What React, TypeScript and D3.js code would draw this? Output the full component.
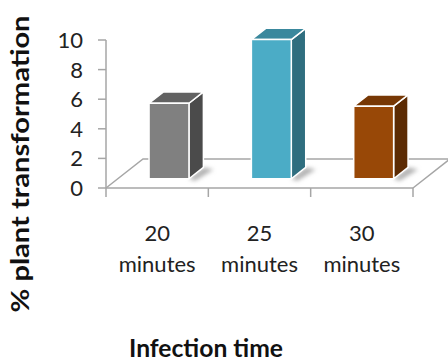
import React from "react";
import * as d3 from "d3";

const categories = ["20 minutes", "25 minutes", "30 minutes"];
const values = [5.1, 9.4, 4.9];
const yTicks = [0, 2, 4, 6, 8, 10];
const frontColors = ["#808080", "#4bacc6", "#984807"];
const topColors = ["#626262", "#3a889d", "#773805"];
const sideColors = ["#4b4b4b", "#2f6e7f", "#5c2b03"];

const W = 448, H = 361;
const x0 = 106, x1 = 413, yBase = 188;
const depth = [37, -29];
const f0 = 0.32, f1 = 0.71;
const font = "Lato, 'Open Sans', sans-serif";

export default function App() {
  const y = d3.scaleLinear().domain([0, 10]).range([yBase, 40]);
  const x = d3.scaleBand<string>().domain(categories).range([x0, x1]).paddingInner(0.61).paddingOuter(0.305);
  const bw = x.bandwidth();
  const step = x.step();
  const boundaries = d3.range(categories.length + 1).map(i => x0 + i * step);
  const line = d3.line();
  const dx0 = depth[0] * f0, dy0 = depth[1] * f0;
  const dx1 = depth[0] * f1, dy1 = depth[1] * f1;

  return (
    <svg width={W} height={H} style={{ position: "absolute", left: 0, top: 0, background: "#fff" }}>
      <defs>
        <filter id="blur" x="-50%" y="-50%" width="200%" height="200%">
          <feGaussianBlur stdDeviation="2" />
        </filter>
      </defs>
      {/* floor */}
      <g stroke="#a6a6a6" strokeWidth={1.5} fill="none">
        <path d={line([[x0, yBase], [x0 + depth[0], yBase + depth[1]], [x1 + depth[0], yBase + depth[1]], [x1, yBase]]) || ""} />
      </g>
      {/* bars */}
      {categories.map((c, i) => {
        const bx = (x(c) as number) + dx0;
        const by = yBase + dy0;
        const h = yBase - y(values[i]);
        const top = by - h;
        const ddx = dx1 - dx0, ddy = dy1 - dy0;
        const front = line([[bx, by], [bx, top], [bx + bw, top], [bx + bw, by]]) + "Z";
        const topFace = line([[bx, top], [bx + ddx, top + ddy], [bx + bw + ddx, top + ddy], [bx + bw, top]]) + "Z";
        const side = line([[bx + bw, by], [bx + bw, top], [bx + bw + ddx, top + ddy], [bx + bw + ddx, by + ddy]]) + "Z";
        const shadow = line([[bx + bw, by], [bx + bw + ddx, by + ddy], [bx + bw + ddx + 10, by + ddy + 2], [bx + bw + 6, by + 2]]) + "Z";
        return (
          <g key={c}>
            <path d={shadow} fill="#b0b0b0" filter="url(#blur)" />
            <path d={side} fill={sideColors[i]} stroke="#fff" strokeWidth={1.5} strokeLinejoin="round" />
            <path d={topFace} fill={topColors[i]} stroke="#fff" strokeWidth={1.5} strokeLinejoin="round" />
            <path d={front} fill={frontColors[i]} stroke="#fff" strokeWidth={1.5} strokeLinejoin="round" />
          </g>
        );
      })}
      {/* front edge / x axis */}
      <g stroke="#a6a6a6" strokeWidth={1.5}>
        <line x1={x0} x2={x1} y1={yBase} y2={yBase} />
        {boundaries.map((b, i) => (
          <line key={i} x1={b} x2={b} y1={yBase} y2={yBase + 9} />
        ))}
        <line x1={x0} x2={x0} y1={y(10)} y2={yBase} />
        {yTicks.map(t => (
          <line key={t} x1={x0 - 8} x2={x0} y1={y(t)} y2={y(t)} />
        ))}
      </g>
      {/* y tick labels */}
      <g fontFamily={font} fontSize={22} fill="#222" textAnchor="end">
        {yTicks.map(t => (
          <text key={t} x={83} y={y(t) + 8}>{t}</text>
        ))}
      </g>
      {/* x labels */}
      <g fontFamily={font} fontSize={22} fill="#222" textAnchor="middle">
        {categories.map(c => {
          const [a, b] = c.split(" ");
          const cx = (x(c) as number) + bw / 2;
          return (
            <g key={c}>
              <text x={cx} y={241}>{a}</text>
              <text x={cx} y={272}>{b}</text>
            </g>
          );
        })}
      </g>
      <text transform={`translate(29,164) rotate(-90)`} textAnchor="middle" fontFamily={font} fontWeight="bold" fontSize={24} textLength={297} lengthAdjust="spacingAndGlyphs" fill="#111">% plant transformation</text>
      <text x={206} y={357} textAnchor="middle" fontFamily={font} fontWeight="bold" fontSize={25} textLength={154} lengthAdjust="spacingAndGlyphs" fill="#111">Infection time</text>
    </svg>
  );
}
